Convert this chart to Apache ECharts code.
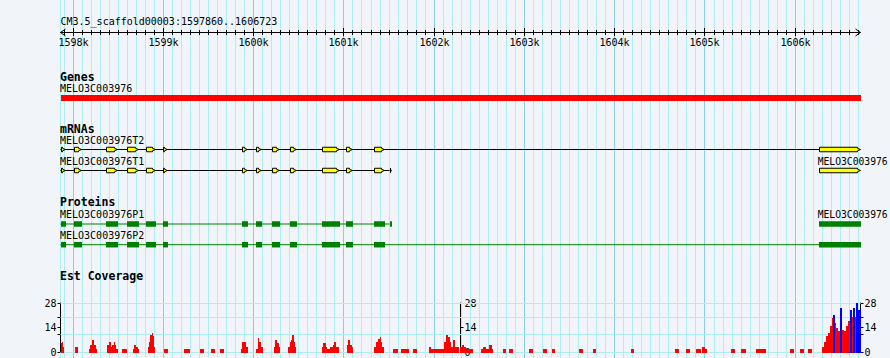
<!DOCTYPE html>
<html><head><meta charset="utf-8">
<script src="https://cdn.jsdelivr.net/npm/echarts@6/dist/echarts.min.js"></script>
<style>html,body{margin:0;padding:0;background:#f1f5fa;}#c{width:890px;height:358px;}</style>
</head><body><div id="c"></div>
<script>
// ---------------- data ----------------
const regionName = 'CM3.5_scaffold00003';
const regionStart = 1597860;
const regionEnd = 1606723;
const rulerMajor = [1598000,1599000,1600000,1601000,1602000,1603000,1604000,1605000,1606000];
const rulerLabels = ['1598k','1599k','1600k','1601k','1602k','1603k','1604k','1605k','1606k'];
const trackTitles = ['Genes','mRNAs','Proteins','Est Coverage'];

const geneName = 'MELO3C003976';
const geneSpan = [[1597860, 1606723]];

const t2Name = 'MELO3C003976T2';
const t2Exons = [[1597860,1597919],[1598007,1598096],[1598361,1598502],[1598597,1598730],[1598804,1598915],[1598996,1599056],[1599867,1599941],[1600022,1600096],[1600199,1600295],[1600398,1600484],[1600753,1600952],[1601018,1601103],[1601328,1601450],[1606265,1606723]];
const t1Name = 'MELO3C003976T1';
const t1Exons = [[1597860,1597919],[1598007,1598096],[1598361,1598502],[1598597,1598730],[1598804,1598915],[1598996,1599056],[1599867,1599941],[1600022,1600096],[1600199,1600295],[1600398,1600484],[1600753,1600952],[1601018,1601103],[1601328,1601450],[1601505,1601535]];
const t3Name = 'MELO3C003976';
const t3Exons = [[1606265,1606723]];

const p1Name = 'MELO3C003976P1';
const p1Exons = [[1597860,1597919],[1598007,1598096],[1598361,1598502],[1598597,1598730],[1598804,1598915],[1598996,1599056],[1599867,1599941],[1600022,1600096],[1600199,1600295],[1600398,1600484],[1600753,1600952],[1601018,1601103],[1601328,1601450],[1601505,1601535]];
const p2Name = 'MELO3C003976P2';
const p2Exons = [[1597860,1597919],[1598007,1598096],[1598361,1598502],[1598597,1598730],[1598804,1598915],[1598996,1599056],[1599867,1599941],[1600022,1600096],[1600199,1600295],[1600398,1600484],[1600753,1600952],[1601018,1601103],[1601328,1601450],[1606265,1606723]];
const p3Name = 'MELO3C003976';
const p3Exons = [[1606265,1606723]];

// EST coverage bins: [start, end, depth]
const coverageRed = [
 [1597860,1597872,5],[1597872,1597885,6],[1597885,1597898,3],
 [1598022,1598059,3],
 [1598177,1598192,2],[1598192,1598206,4],[1598206,1598229,7],[1598229,1598251,4],[1598251,1598258,2],
 [1598376,1598398,4],[1598398,1598420,5.5],[1598420,1598436,3],[1598436,1598450,4],[1598450,1598464,5.5],[1598464,1598480,4],[1598480,1598494,2],
 [1598546,1598597,1.5],
 [1598664,1598679,2],[1598679,1598701,4],[1598701,1598716,3],[1598716,1598730,2],
 [1598826,1598841,3],[1598841,1598856,6],[1598856,1598871,10],[1598871,1598878,11],[1598878,1598893,9],[1598893,1598901,3],
 [1599004,1599048,2],
 [1599225,1599239,1.5],[1599239,1599269,2],[1599269,1599291,1.5],
 [1599402,1599416,1.5],[1599416,1599439,2],[1599439,1599446,1.5],
 [1599532,1599568,1.5],
 [1599623,1599668,1.5],
 [1599859,1599875,2],[1599875,1599919,5.5],[1599919,1599933,3],
 [1600030,1600044,2],[1600044,1600058,8],[1600058,1600081,6],[1600081,1600103,3],
 [1600221,1600236,3],[1600236,1600258,7],[1600258,1600280,5],[1600280,1600288,3],
 [1600384,1600398,3],[1600398,1600413,6],[1600413,1600428,7],[1600428,1600443,10],[1600443,1600457,6],[1600457,1600472,3],
 [1600753,1600767,3],[1600767,1600797,5],[1600797,1600811,3],[1600811,1600841,2],
 [1600849,1600878,3],[1600878,1600893,4],[1600893,1600915,5.5],[1600915,1600944,3],
 [1601033,1601048,4],[1601048,1601070,7],[1601070,1601092,4],[1601092,1601099,3],
 [1601336,1601350,3],[1601350,1601380,5.5],[1601380,1601395,7.5],[1601395,1601409,8.5],[1601409,1601425,6],[1601425,1601447,3],
 [1601542,1601594,1.5],
 [1601630,1601653,1.5],[1601653,1601697,2],[1601697,1601719,1.5],
 [1601763,1601808,1.5],
 [1601948,1601970,3],[1601970,1602111,2],
 [1602111,1602133,5.5],[1602133,1602155,10],[1602155,1602170,8.5],[1602170,1602184,5.5],[1602184,1602206,3],[1602206,1602228,7],[1602228,1602244,3],
 [1602244,1602280,3],
 [1602288,1602310,3],[1602310,1602332,4],[1602332,1602354,3],
 [1602354,1602428,2],
 [1602516,1602538,2],[1602538,1602576,3],[1602576,1602612,2],[1602612,1602635,4],[1602635,1602657,2],
 [1602760,1602797,1.5],
 [1602834,1602878,1.5],
 [1603047,1603099,1.5],
 [1603202,1603247,1.5],
 [1603306,1603335,1.5],
 [1603609,1603653,1.5],
 [1603756,1603794,1.5],
 [1604181,1604218,1.5],
 [1604671,1604716,1.5],
 [1604790,1604834,1.5],
 [1604900,1604956,1.5],
 [1604967,1604996,3],[1604996,1605018,2],
 [1605288,1605336,1.5],
 [1605399,1605454,1.5],
 [1605565,1605587,1.5],[1605587,1605609,2],[1605609,1605631,1.5],[1605631,1605653,2],[1605653,1605675,1.5],
 [1605941,1605985,2],
 [1606052,1606096,1.5],
 [1606140,1606185,1.5],
 [1606295,1606318,3],[1606318,1606340,6],[1606340,1606362,9],[1606362,1606384,11],[1606384,1606406,14.7],[1606406,1606420,19.4],
 [1606435,1606450,16.6],[1606450,1606472,13.7],[1606472,1606495,11.8],
 [1606517,1606539,12.8],[1606539,1606561,11.8],[1606561,1606583,14.7],[1606583,1606605,17.5],
 [1606627,1606638,20],[1606664,1606678,20]
];
const coverageBlue = [
 [1606420,1606435,21.3],[1606495,1606517,25],[1606605,1606627,24],[1606638,1606664,25],[1606678,1606700,28],[1606700,1606723,24]
];
const covMax = 28;
const covLabelValues = [0, 14, 28];
const covTickValues = [0, 10, 14, 20, 28];
const covGridValues = [0, 10, 20, 28];

// ---------------- drawing ----------------
const chart = echarts.init(document.getElementById('c'), null, {renderer: 'svg', width: 890, height: 358});
const L = 60.5, R = 29.5;
const MONO = '"DejaVu Sans Mono","Liberation Mono",monospace';
const FONT = '10px ' + MONO;
const FONT_EDGE = '9.7px ' + MONO;
const BOLD = 'bold 11.5px ' + MONO;
const snap = x => Math.floor(x) + 0.5;
const GRID_MINOR = '#aeeeee', GRID_MAJOR = '#8ccbee';

// ruler minor ticks every 100 bp (axis structure)
const rulerMinor = [];
for (let p = Math.ceil(regionStart / 100) * 100; p <= regionEnd; p += 100) rulerMinor.push(p);
const gridMinor = [regionStart].concat(rulerMinor);

function textEl(x, y, s, font, align) {
  return {type: 'text', style: {text: s, x: x, y: y, font: font, fill: '#000', textFill: '#000',
    align: align || 'left', verticalAlign: 'middle', textAlign: align || 'left', textVerticalAlign: 'middle'}};
}
function X(api, v) { return api.coord([v, 0])[0]; }

function vLines(list, color, z) {
  return {type: 'custom', xAxisIndex: 0, yAxisIndex: 0, z: z, silent: true,
    data: list.map(p => [p, 0]),
    renderItem(params, api) {
      const x = snap(X(api, api.value(0)));
      return {type: 'line', shape: {x1: x, y1: 0, x2: x, y2: 358}, style: {stroke: color, lineWidth: 1}};
    }};
}

const rulerY = 32.5;
const rulerSeriesMinor = {type: 'custom', xAxisIndex: 0, yAxisIndex: 0, z: 5, silent: true,
  data: rulerMinor.map(p => [p, 0]),
  renderItem(params, api) {
    const x = snap(X(api, api.value(0)));
    const ch = [{type: 'line', shape: {x1: x, y1: 30, x2: x, y2: 35}, style: {stroke: '#000', lineWidth: 1}}];
    if (params.dataIndex === 0) {
      const a = X(api, regionStart), b = X(api, regionEnd);
      ch.push({type: 'line', shape: {x1: a, y1: rulerY, x2: b, y2: rulerY}, style: {stroke: '#000', lineWidth: 1}});
      ch.push({type: 'polyline', shape: {points: [[a + 5, rulerY - 3.5], [a, rulerY], [a + 5, rulerY + 3.5]]}, style: {stroke: '#000', fill: 'none', lineWidth: 1}});
      ch.push({type: 'polyline', shape: {points: [[b - 5, rulerY - 3.5], [b, rulerY], [b - 5, rulerY + 3.5]]}, style: {stroke: '#000', fill: 'none', lineWidth: 1}});
      ch.push(textEl(a, 21, regionName + ':' + regionStart + '..' + regionEnd, FONT));
    }
    return {type: 'group', children: ch};
  }};
const rulerSeriesMajor = {type: 'custom', xAxisIndex: 0, yAxisIndex: 0, z: 5, silent: true,
  data: rulerMajor.map(p => [p, 0]),
  renderItem(params, api) {
    const x = snap(X(api, api.value(0)));
    return {type: 'group', children: [
      {type: 'line', shape: {x1: x, y1: 28, x2: x, y2: 36}, style: {stroke: '#000', lineWidth: 1}},
      textEl(x, 42.5, rulerLabels[params.dataIndex], FONT, 'center')
    ]};
  }};

// generic feature track
function featureSeries(exons, opt) {
  return {type: 'custom', xAxisIndex: 0, yAxisIndex: 0, z: 6, silent: true,
    data: exons,
    renderItem(params, api) {
      const ch = [];
      const cy = opt.y;
      if (params.dataIndex === 0) {
        if (opt.line && exons.length > 1) {
          const a = X(api, exons[0][0]), b = X(api, exons[exons.length - 1][0]);
          ch.push({type: 'line', shape: {x1: a, y1: cy, x2: b, y2: cy}, style: {stroke: opt.lineColor, lineWidth: 1}});
        }
        if (opt.label) ch.push(textEl(Math.max(60, X(api, exons[0][0]) - (opt.labelShift || 0.5)), opt.labelY, opt.label, opt.labelFont || FONT));
      }
      const x0 = Math.round(X(api, api.value(0))), x1 = Math.round(X(api, api.value(1)));
      const t = cy - opt.h / 2, b = cy + opt.h / 2;
      if (opt.arrow) {
        const xb = Math.max(x0 + 0.5, x1 - 3.5);
        ch.push({type: 'polygon', shape: {points: [[x0 + 0.5, t], [xb, t], [xb, t + 1], [x1 - 0.5, cy], [xb, b - 1], [xb, b], [x0 + 0.5, b]]},
          style: {fill: opt.fill, stroke: '#000', lineWidth: 1}});
      } else {
        ch.push({type: 'rect', shape: {x: x0, y: t, width: Math.max(1, x1 - x0), height: opt.h}, style: {fill: opt.fill}});
      }
      return {type: 'group', children: ch};
    }};
}

function covSeries(data, color) {
  return {type: 'custom', xAxisIndex: 1, yAxisIndex: 1, z: 4, silent: true,
    data: data, encode: {x: [0, 1], y: 2},
    renderItem(params, api) {
      const p0 = api.coord([api.value(0), api.value(2)]);
      const p1 = api.coord([api.value(1), 0]);
      const x0 = Math.round(p0[0]), x1 = Math.round(p1[0]);
      const yt = Math.round(p0[1]), yb = Math.round(p1[1]) + 1;
      return {type: 'rect', shape: {x: x0, y: yt, width: Math.max(1, x1 - x0), height: yb - yt}, style: {fill: color}};
    }};
}

const covGridSeries = {type: 'custom', xAxisIndex: 1, yAxisIndex: 1, z: 1, silent: true,
  data: covGridValues.map(v => [regionStart, v]), encode: {x: 0, y: 1},
  renderItem(params, api) {
    const a = api.coord([regionStart, api.value(1)]);
    const b = api.coord([regionEnd, api.value(1)]);
    const y = snap(a[1]);
    return {type: 'line', shape: {x1: a[0], y1: y, x2: b[0], y2: y}, style: {stroke: GRID_MINOR, lineWidth: 1}};
  }};

function covAxis(pos, offset, inside) {
  return {gridIndex: 1, type: 'value', min: 0, max: covMax, interval: 14, position: pos, offset: offset,
    axisLine: {show: true, onZero: false, lineStyle: {color: '#000', width: 1}},
    axisTick: {show: true, inside: inside, length: 3, customValues: covTickValues, lineStyle: {color: '#000', width: 1}},
    axisLabel: {show: true, inside: inside, margin: 4, customValues: covLabelValues, fontFamily: MONO, fontSize: 10, color: '#000'},
    splitLine: {show: false}};
}

const titleEls = [
  {t: trackTitles[0], y: 76.5}, {t: trackTitles[1], y: 128.5}, {t: trackTitles[2], y: 201.7}, {t: trackTitles[3], y: 275.5}
].map(o => ({type: 'text', x: 60, y: o.y, z: 10,
  style: {text: o.t, font: BOLD, fill: '#000', textFill: '#000', align: 'left', verticalAlign: 'middle', textAlign: 'left', textVerticalAlign: 'middle'}}));

const option = {
  backgroundColor: '#f1f5fa',
  animation: false,
  grid: [
    {left: L, right: R, top: 0, bottom: 0},
    {left: L, right: R, top: 303, height: 49}
  ],
  xAxis: [
    {gridIndex: 0, type: 'value', min: regionStart, max: regionEnd, show: false},
    {gridIndex: 1, type: 'value', min: regionStart, max: regionEnd, show: false}
  ],
  yAxis: [
    {gridIndex: 0, type: 'value', min: 0, max: 1, show: false},
    covAxis('left', 0, false),
    covAxis('left', -400, true),
    covAxis('right', 0, false)
  ],
  graphic: {elements: titleEls},
  series: [
    vLines(gridMinor, GRID_MINOR, 0),
    vLines(rulerMajor, GRID_MAJOR, 0),
    covGridSeries,
    rulerSeriesMinor,
    rulerSeriesMajor,
    // Genes
    featureSeries(geneSpan, {y: 98, h: 6, fill: '#ff0000', label: geneName, labelY: 88}),
    // mRNAs
    featureSeries(t2Exons, {y: 149.5, h: 4.5, fill: '#ffff00', arrow: true, line: true, lineColor: '#000', label: t2Name, labelY: 140.7}),
    featureSeries(t1Exons, {y: 170.5, h: 4.5, fill: '#ffff00', arrow: true, line: true, lineColor: '#000', label: t1Name, labelY: 161.3}),
    featureSeries(t3Exons, {y: 170.5, h: 4.5, fill: '#ffff00', arrow: true, label: t3Name, labelY: 161.3, labelFont: FONT_EDGE, labelShift: 1.5}),
    // Proteins
    featureSeries(p1Exons, {y: 224, h: 5.5, fill: '#008000', line: true, lineColor: '#008000', label: p1Name, labelY: 214.5}),
    featureSeries(p3Exons, {y: 224, h: 5.5, fill: '#008000', label: p3Name, labelY: 214.5, labelFont: FONT_EDGE, labelShift: 1.5}),
    featureSeries(p2Exons, {y: 244.7, h: 5.5, fill: '#008000', line: true, lineColor: '#008000', label: p2Name, labelY: 235.3}),
    // coverage
    covSeries(coverageRed, '#ff0000'),
    covSeries(coverageBlue, '#0000ff')
  ]
};
chart.setOption(option);
</script></body></html>
